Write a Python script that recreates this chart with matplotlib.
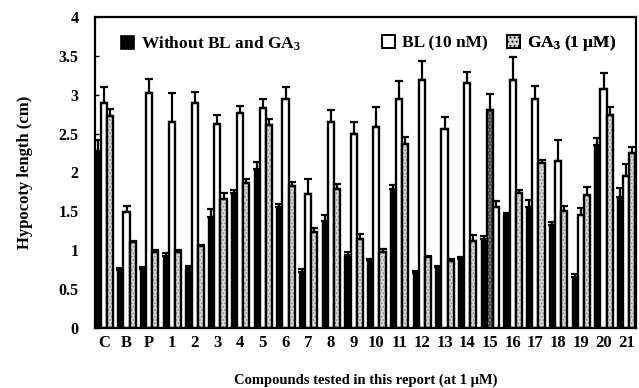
import matplotlib
matplotlib.use("Agg")
import matplotlib.pyplot as plt
import numpy as np
from matplotlib.patches import Patch

plt.rcParams['font.family'] = ['Liberation Serif', 'DejaVu Serif']
plt.rcParams['font.weight'] = 'bold'
plt.rcParams['mathtext.fontset'] = 'custom'
plt.rcParams['mathtext.rm'] = 'Liberation Serif:bold'
plt.rcParams['mathtext.it'] = 'Liberation Serif:bold'
plt.rcParams['mathtext.bf'] = 'Liberation Serif:bold'
plt.rcParams['hatch.linewidth'] = 0.8

categories = ['C', 'B', 'P', '1', '2', '3', '4', '5', '6', '7', '8', '9', '10',
              '11', '12', '13', '14', '15', '16', '17', '18', '19', '20', '21']

without_bl_ga = [2.27, 0.74, 0.76, 0.93, 0.77, 1.43, 1.73, 2.05, 1.55, 0.72, 1.38, 0.94,
                 0.87, 1.79, 0.71, 0.78, 0.89, 1.14, 1.45, 1.56, 1.32, 0.65, 2.35, 1.68]
without_err = [0.15, 0.03, 0.02, 0.03, 0.02, 0.10, 0.04, 0.09, 0.05, 0.04, 0.07, 0.04,
               0.02, 0.05, 0.02, 0.02, 0.02, 0.04, 0.03, 0.09, 0.04, 0.04, 0.10, 0.12]

bl_10nm = [2.90, 1.49, 3.02, 2.65, 2.89, 2.63, 2.76, 2.83, 2.95, 1.72, 2.65, 2.50,
           2.58, 2.94, 3.19, 2.56, 3.15, 2.81, 3.19, 2.95, 2.15, 1.45, 3.08, 1.96]
bl_err = [0.20, 0.08, 0.18, 0.37, 0.15, 0.11, 0.10, 0.12, 0.15, 0.19, 0.15, 0.15,
          0.26, 0.24, 0.24, 0.16, 0.14, 0.20, 0.30, 0.16, 0.27, 0.09, 0.20, 0.15]

ga3_1um = [2.73, 1.10, 0.98, 0.98, 1.05, 1.66, 1.86, 2.61, 1.83, 1.23, 1.79, 1.14,
           0.97, 2.37, 0.91, 0.86, 1.12, 1.56, 1.73, 2.12, 1.51, 1.71, 2.74, 2.25]
ga_err = [0.09, 0.02, 0.02, 0.02, 0.02, 0.08, 0.05, 0.08, 0.05, 0.05, 0.06, 0.07,
          0.04, 0.09, 0.02, 0.02, 0.08, 0.07, 0.05, 0.04, 0.06, 0.10, 0.10, 0.08]

fig = plt.figure(figsize=(6.39, 3.88), dpi=100)
ax = fig.add_axes([0.149, 0.155, 0.846, 0.801])

x = np.arange(len(categories))
w = 0.27
LW = 1.7

def draw_white(xs, vals):
    ax.bar(xs, vals, w, facecolor='white', edgecolor='black', linewidth=LW, zorder=2)

def draw_hatched(xs, vals, face='#d8d8d8', hc='#8c8c8c'):
    ax.bar(xs, vals, w, facecolor=face, edgecolor=hc, hatch='.....',
           linewidth=0, zorder=2)
    ax.bar(xs, vals, w, fill=False, edgecolor='black', linewidth=LW, zorder=3)

# black series
ax.bar(x - w, without_bl_ga, w, facecolor='black', edgecolor='black', linewidth=1.0, zorder=2)
ax.errorbar(x - w, without_bl_ga, yerr=[np.zeros(len(x)), without_err], fmt='none',
            ecolor='black', elinewidth=1.6, capsize=3.2, capthick=1.6, zorder=4)

# BL series (middle position); group 15 printed with a dark dotted fill
swap = categories.index('15')
bl_arr = np.array(bl_10nm)
ga_arr = np.array(ga3_1um)
mask = np.ones(len(x), bool)
mask[swap] = False
draw_white(x[mask], bl_arr[mask])
draw_hatched(x[~mask], bl_arr[~mask], face='#505050', hc='#9a9a9a')
ax.errorbar(x, bl_10nm, yerr=[np.zeros(len(x)), bl_err], fmt='none',
            ecolor='black', elinewidth=1.6, capsize=3.2, capthick=1.6, zorder=4)

# GA3 series (right position)
draw_hatched(x[mask] + w, ga_arr[mask])
draw_white(x[~mask] + w, ga_arr[~mask])
ax.errorbar(x + w, ga3_1um, yerr=[np.zeros(len(x)), ga_err], fmt='none',
            ecolor='black', elinewidth=1.6, capsize=3.2, capthick=1.6, zorder=4)

ax.set_xlim(-0.38, 23.42)
ax.set_ylim(0, 4)
ax.set_yticks([0, 0.5, 1, 1.5, 2, 2.5, 3, 3.5, 4])
ax.set_yticklabels(['0', '0.5', '1', '1.5', '2', '2.5', '3', '3.5', '4'])
ax.set_xticks(x)
ax.set_xticklabels(categories)
ax.tick_params(axis='x', length=0, labelsize=12, pad=5)
ax.tick_params(axis='y', direction='in', length=3, width=1, labelsize=11.5, pad=12)
for s in ax.spines.values():
    s.set_linewidth(1.6)

ax.set_ylabel('Hypocoty length (cm)', fontsize=12, fontweight='bold', labelpad=18)
ax.set_xlabel('Compounds tested in this report (at 1 \u03bcM)', fontsize=10.5,
              fontweight='bold', labelpad=16)

handles = [
    Patch(facecolor='black', edgecolor='black', linewidth=1.2),
    Patch(facecolor='white', edgecolor='black', linewidth=1.4),
    Patch(facecolor='#d8d8d8', edgecolor='black', hatch='....', linewidth=1.4),
]
labels = ['Without BL and GA$_3$', 'BL (10 nM)', 'GA$_3$ (1 \u03bcM)']
anchors = [0.048, 0.530, 0.762]
for h, lab, xa in zip(handles, labels, anchors):
    leg = ax.legend([h], [lab], loc='center left', bbox_to_anchor=(xa, 0.915),
                    frameon=False, fontsize=12.5, handlelength=0.75, handleheight=0.75,
                    handletextpad=0.4, borderpad=0, borderaxespad=0)
    ax.add_artist(leg)

fig.savefig('out.png', dpi=100)
